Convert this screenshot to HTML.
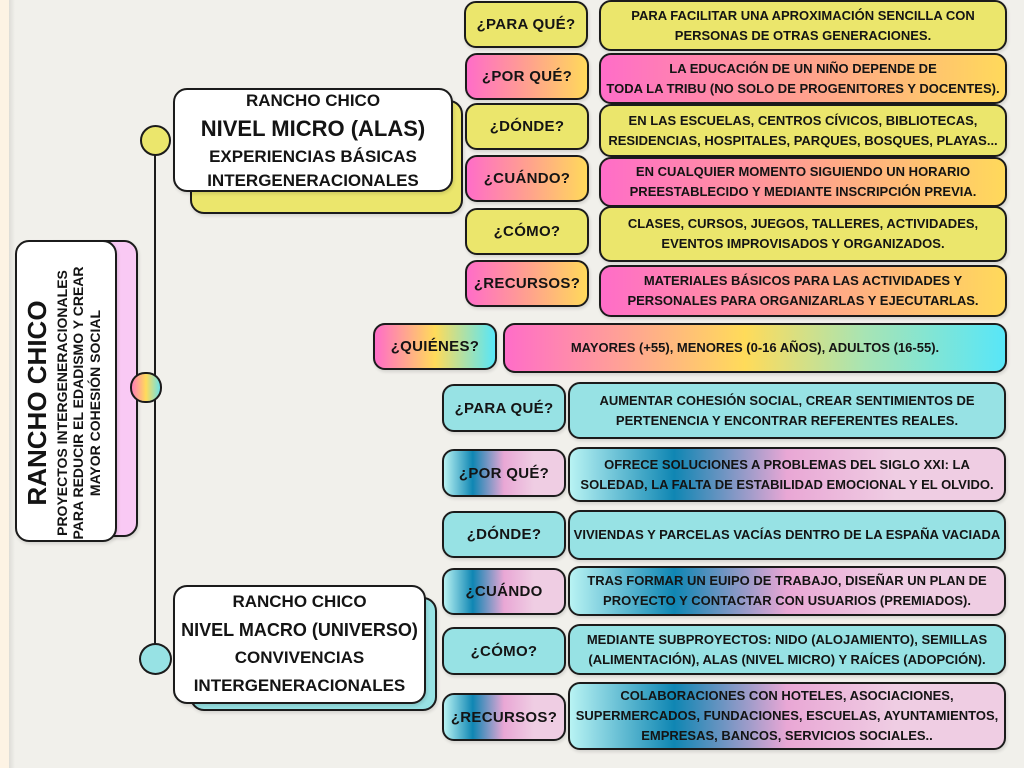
<!DOCTYPE html>
<html><head><meta charset="utf-8">
<style>
*{margin:0;padding:0;box-sizing:border-box}
html,body{width:1024px;height:768px;overflow:hidden}
body{background:#f1f0eb;position:relative;font-family:"Liberation Sans","DejaVu Sans",sans-serif;font-weight:bold;color:#141414}
.strip{position:absolute;left:0;top:0;width:9px;height:768px;background:#fdf3e4}
.strip2{position:absolute;left:9px;top:0;width:6px;height:768px;background:linear-gradient(90deg,#dddcd7,#f1f0eb)}
.b{position:absolute;border:2px solid #1b1b1b;border-radius:12px;display:flex;align-items:center;justify-content:center;text-align:center;white-space:nowrap;box-shadow:1px 2px 3px rgba(0,0,0,0.12)}
.q{font-size:15px;letter-spacing:0.3px}
.a{font-size:13px;line-height:20px}
.y{background:#ebe66c}
.p{background:linear-gradient(90deg,#ff6dc8 0%,#ffa08f 50%,#ffd95b 100%)}
.r{background:linear-gradient(90deg,#ff6dc8 0%,#ffa592 25%,#ffdb5a 48%,#a7e4b4 72%,#58e6f8 100%)}
.rq{background:linear-gradient(90deg,#ff6dc8 0%,#ffdb5a 50%,#58e6f8 100%)}
.c{background:#97e2e4}
.g{background:linear-gradient(90deg,#b8f3f3 0%,#0f86b3 24%,#e9a7d5 50%,#efcde3 75%,#efcde3 100%)}
.w{background:#fff}
.line{position:absolute;left:154px;top:140px;width:2px;height:518px;background:#1b1b1b}
.dot{position:absolute;border:2px solid #1b1b1b;border-radius:50%}
</style></head><body>
<div class="strip"></div><div class="strip2"></div>

<div class="line"></div>

<!-- main vertical box -->
<div class="b" style="left:40px;top:240px;width:98px;height:297px;background:#f9c9f4;border-radius:14px"></div>
<div class="b w" style="left:15px;top:240px;width:102px;height:302px;border-radius:14px"></div>
<div style="position:absolute;left:-94px;top:358px;width:320px;height:90px;transform:rotate(-90deg);transform-origin:160px 45px;text-align:center;white-space:nowrap">
  <div style="position:absolute;left:0;width:320px;top:1px;font-size:26px;line-height:30px">RANCHO CHICO</div>
  <div style="position:absolute;left:0;width:320px;top:33px;font-size:14px;line-height:16px">PROYECTOS INTERGENERACIONALES</div>
  <div style="position:absolute;left:0;width:320px;top:49px;font-size:14px;line-height:16px">PARA REDUCIR EL EDADISMO Y CREAR</div>
  <div style="position:absolute;left:0;width:320px;top:66px;font-size:14px;line-height:16px">MAYOR COHESIÓN SOCIAL</div>
</div>

<!-- connector dots -->
<div class="dot" style="left:140px;top:125px;width:31px;height:31px;background:#ebe66c"></div>
<div class="dot" style="left:130px;top:372px;width:32px;height:31px;border-radius:15px;background:linear-gradient(90deg,#ff7fb8,#ffdb5a 50%,#6ee2e6)"></div>
<div class="dot" style="left:139px;top:643px;width:33px;height:32px;background:#97e2e4"></div>

<!-- micro box -->
<div class="b y" style="left:190px;top:100px;width:273px;height:114px;border-radius:14px"></div>
<div class="b w" style="left:173px;top:88px;width:280px;height:104px;border-radius:14px;flex-direction:column;justify-content:flex-start">
  <div style="font-size:17px;line-height:22px">RANCHO CHICO</div>
  <div style="font-size:22px;line-height:34px">NIVEL MICRO (ALAS)</div>
  <div style="font-size:17px;line-height:22px">EXPERIENCIAS BÁSICAS</div>
  <div style="font-size:17px;line-height:26px">INTERGENERACIONALES</div>
</div>

<!-- macro box -->
<div class="b c" style="left:190px;top:597px;width:247px;height:114px;border-radius:14px"></div>
<div class="b w" style="left:173px;top:585px;width:253px;height:119px;border-radius:14px;flex-direction:column">
  <div style="font-size:17px;line-height:28px;margin-top:-2px">RANCHO CHICO</div>
  <div style="font-size:18px;line-height:28px">NIVEL MACRO (UNIVERSO)</div>
  <div style="font-size:17px;line-height:28px">CONVIVENCIAS</div>
  <div style="font-size:17px;line-height:28px">INTERGENERACIONALES</div>
</div>

<!-- top group questions -->
<div class="b q y" style="left:464px;top:1px;width:124px;height:47px">¿PARA QUÉ?</div>
<div class="b q p" style="left:465px;top:53px;width:124px;height:47px">¿POR QUÉ?</div>
<div class="b q y" style="left:465px;top:103px;width:124px;height:47px">¿DÓNDE?</div>
<div class="b q p" style="left:465px;top:155px;width:124px;height:47px">¿CUÁNDO?</div>
<div class="b q y" style="left:465px;top:208px;width:124px;height:47px">¿CÓMO?</div>
<div class="b q p" style="left:465px;top:260px;width:124px;height:47px">¿RECURSOS?</div>
<div class="b q rq" style="left:373px;top:323px;width:124px;height:47px">¿QUIÉNES?</div>

<!-- top group answers -->
<div class="b a y" style="left:599px;top:0px;width:408px;height:51px">PARA FACILITAR UNA APROXIMACIÓN SENCILLA CON<br>PERSONAS DE OTRAS GENERACIONES.</div>
<div class="b a p" style="left:599px;top:53px;width:408px;height:51px">LA EDUCACIÓN DE UN NIÑO DEPENDE DE<br>TODA LA TRIBU (NO SOLO DE PROGENITORES Y DOCENTES).</div>
<div class="b a y" style="left:599px;top:104px;width:408px;height:53px">EN LAS ESCUELAS, CENTROS CÍVICOS, BIBLIOTECAS,<br>RESIDENCIAS, HOSPITALES, PARQUES, BOSQUES, PLAYAS...</div>
<div class="b a p" style="left:599px;top:157px;width:408px;height:50px">EN CUALQUIER MOMENTO SIGUIENDO UN HORARIO<br>PREESTABLECIDO Y MEDIANTE INSCRIPCIÓN PREVIA.</div>
<div class="b a y" style="left:599px;top:206px;width:408px;height:56px">CLASES, CURSOS, JUEGOS, TALLERES, ACTIVIDADES,<br>EVENTOS IMPROVISADOS Y ORGANIZADOS.</div>
<div class="b a p" style="left:599px;top:265px;width:408px;height:52px">MATERIALES BÁSICOS PARA LAS ACTIVIDADES Y<br>PERSONALES PARA ORGANIZARLAS Y EJECUTARLAS.</div>
<div class="b a r" style="left:503px;top:323px;width:504px;height:50px">MAYORES (+55), MENORES (0-16 AÑOS), ADULTOS (16-55).</div>

<!-- bottom group questions -->
<div class="b q c" style="left:442px;top:384px;width:124px;height:48px">¿PARA QUÉ?</div>
<div class="b q g" style="left:442px;top:449px;width:124px;height:48px">¿POR QUÉ?</div>
<div class="b q c" style="left:442px;top:511px;width:124px;height:47px">¿DÓNDE?</div>
<div class="b q g" style="left:442px;top:568px;width:124px;height:47px">¿CUÁNDO</div>
<div class="b q c" style="left:442px;top:627px;width:124px;height:48px">¿CÓMO?</div>
<div class="b q g" style="left:442px;top:693px;width:124px;height:48px">¿RECURSOS?</div>

<!-- bottom group answers -->
<div class="b a c" style="left:568px;top:382px;width:438px;height:57px">AUMENTAR COHESIÓN SOCIAL, CREAR SENTIMIENTOS DE<br>PERTENENCIA Y ENCONTRAR REFERENTES REALES.</div>
<div class="b a g" style="left:568px;top:447px;width:438px;height:55px">OFRECE SOLUCIONES A PROBLEMAS DEL SIGLO XXI: LA<br>SOLEDAD, LA FALTA DE ESTABILIDAD EMOCIONAL Y EL OLVIDO.</div>
<div class="b a c" style="left:568px;top:510px;width:438px;height:50px">VIVIENDAS Y PARCELAS VACÍAS DENTRO DE LA ESPAÑA VACIADA</div>
<div class="b a g" style="left:568px;top:566px;width:438px;height:50px">TRAS FORMAR UN EUIPO DE TRABAJO, DISEÑAR UN PLAN DE<br>PROYECTO Y CONTACTAR CON USUARIOS (PREMIADOS).</div>
<div class="b a c" style="left:568px;top:624px;width:438px;height:51px">MEDIANTE SUBPROYECTOS: NIDO (ALOJAMIENTO), SEMILLAS<br>(ALIMENTACIÓN), ALAS (NIVEL MICRO) Y RAÍCES (ADOPCIÓN).</div>
<div class="b a g" style="left:568px;top:682px;width:438px;height:68px">COLABORACIONES CON HOTELES, ASOCIACIONES,<br>SUPERMERCADOS, FUNDACIONES, ESCUELAS, AYUNTAMIENTOS,<br>EMPRESAS, BANCOS, SERVICIOS SOCIALES..</div>

</body></html>
